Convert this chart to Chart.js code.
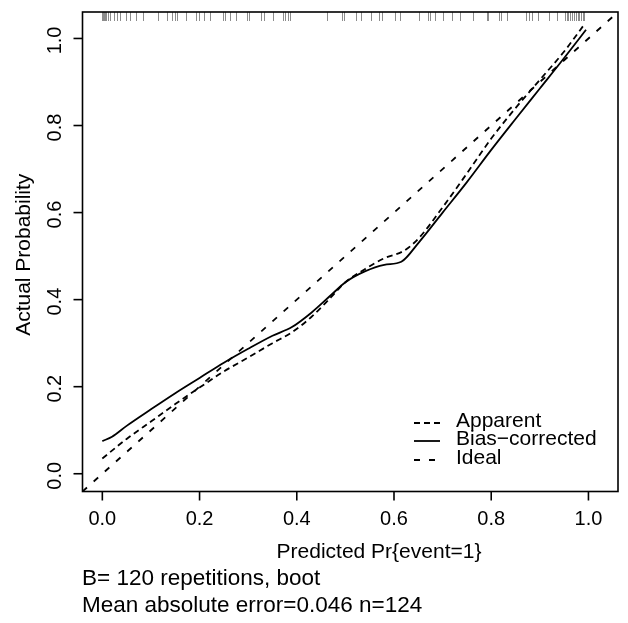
<!DOCTYPE html>
<html>
<head>
<meta charset="utf-8">
<script src="https://cdn.jsdelivr.net/npm/chart.js@4.4.0/dist/chart.umd.min.js"></script>
<style>
  html, body { margin: 0; padding: 0; background: #fff; }
</style>
</head>
<body>
<canvas id="grafico" width="628" height="623"></canvas>
<script>
// curva aparente (linea de trazos cortos)
const xAparente = [0, 0.05, 0.1, 0.15, 0.2, 0.25, 0.3, 0.35, 0.39, 0.43, 0.47, 0.5, 0.54, 0.58, 0.62, 0.65, 0.7, 0.75, 0.8, 0.85, 0.9, 0.95, 0.99];
const yAparente = [0.035, 0.08, 0.12, 0.16, 0.198, 0.235, 0.267, 0.3, 0.325, 0.36, 0.405, 0.44, 0.47, 0.495, 0.512, 0.54, 0.612, 0.69, 0.77, 0.84, 0.905, 0.97, 1.03];

// curva corregida por sesgo (linea continua)
const xCorregido = [0, 0.02, 0.05, 0.1, 0.15, 0.2, 0.25, 0.3, 0.35, 0.39, 0.43, 0.47, 0.5, 0.54, 0.58, 0.615, 0.65, 0.7, 0.75, 0.8, 0.85, 0.9, 0.95, 0.995];
const yCorregido = [0.075, 0.085, 0.11, 0.148, 0.185, 0.22, 0.255, 0.287, 0.317, 0.337, 0.37, 0.41, 0.44, 0.465, 0.48, 0.487, 0.53, 0.6, 0.67, 0.744, 0.815, 0.885, 0.955, 1.02];

// probabilidades predichas (marcas de la parte superior)
const rug = [0, 0.003, 0.001, 0.005, 0.008, 0.011, 0.016, 0.025, 0.03, 0.037, 0.049, 0.056, 0.07, 0.083,
  0.114, 0.134, 0.144, 0.15, 0.153, 0.172, 0.193, 0.198, 0.21, 0.221,
  0.249, 0.253, 0.262, 0.274, 0.297, 0.301, 0.326, 0.333, 0.351, 0.371, 0.376, 0.382, 0.386, 0.463, 0.492, 0.497,
  0.522, 0.533, 0.552, 0.57, 0.576, 0.602, 0.612, 0.652, 0.67, 0.674, 0.684, 0.701, 0.719, 0.736, 0.762, 0.791,
  0.793, 0.816, 0.821, 0.832, 0.871, 0.878, 0.883, 0.897, 0.919, 0.935, 0.952, 0.955, 0.958, 0.962, 0.967,
  0.971, 0.974, 0.978, 0.981, 0.984, 0.988, 0.991];

const limites = [-0.0408, 1.0608];
const marcas = [0, 0.2, 0.4, 0.6, 0.8, 1.0];
const etiquetas = ['0.0', '0.2', '0.4', '0.6', '0.8', '1.0'];
const leyenda = ['Apparent', 'Bias\u2212corrected', 'Ideal'];
const tituloX = 'Predicted Pr{event=1}';
const tituloY = 'Actual Probability';
const notas = ['B= 120 repetitions, boot', 'Mean absolute error=0.046 n=124'];

const FAMILIA = '"Liberation Sans", Arial, sans-serif';
const TRAZO_APARENTE = [6, 4];
const TRAZO_IDEAL = [6, 9];

function puntos(xs, ys) {
  return xs.map((x, i) => ({ x: x, y: ys[i] }));
}

const dibujarEjes = {
  id: 'ejesR',
  afterDraw(chart) {
    const ctx = chart.ctx;
    const area = chart.chartArea;
    const sx = chart.scales.x;
    const sy = chart.scales.y;
    ctx.save();
    ctx.fillStyle = '#000';

    // rug de predicciones
    ctx.strokeStyle = 'rgba(0,0,0,0.45)';
    ctx.lineWidth = 1;
    rug.forEach(r => {
      const px = Math.round(sx.getPixelForValue(r)) + 0.5;
      ctx.beginPath();
      ctx.moveTo(px, area.top);
      ctx.lineTo(px, area.top + 9);
      ctx.stroke();
    });

    // caja
    ctx.strokeStyle = '#000';
    ctx.lineWidth = 1.6;
    ctx.strokeRect(area.left, area.top, area.right - area.left, area.bottom - area.top);

    ctx.font = '20px ' + FAMILIA;
    ctx.textAlign = 'center';
    ctx.textBaseline = 'middle';
    // eje x
    marcas.forEach((v, i) => {
      const px = sx.getPixelForValue(v);
      ctx.beginPath();
      ctx.moveTo(px, area.bottom);
      ctx.lineTo(px, area.bottom + 9);
      ctx.stroke();
      ctx.fillText(etiquetas[i], px, 519);
    });
    // eje y
    marcas.forEach((v, i) => {
      const py = sy.getPixelForValue(v);
      ctx.beginPath();
      ctx.moveTo(area.left - 9, py);
      ctx.lineTo(area.left, py);
      ctx.stroke();
      ctx.save();
      ctx.translate(55, py + 2);
      ctx.rotate(-Math.PI / 2);
      ctx.fillText(etiquetas[i], 0, 0);
      ctx.restore();
    });

    // titulos
    ctx.font = '21px ' + FAMILIA;
    ctx.fillText(tituloX, 379, 552);
    ctx.save();
    ctx.translate(24, (area.top + area.bottom) / 2 + 3);
    ctx.rotate(-Math.PI / 2);
    ctx.fillText(tituloY, 0, 0);
    ctx.restore();

    // leyenda
    const estilos = [TRAZO_APARENTE, [], TRAZO_IDEAL];
    const filas = [421, 439, 458];
    ctx.lineWidth = 1.8;
    ctx.textAlign = 'left';
    leyenda.forEach((t, i) => {
      const y = filas[i] + 2;
      ctx.setLineDash(estilos[i]);
      ctx.beginPath();
      ctx.moveTo(414, y);
      ctx.lineTo(440, y);
      ctx.stroke();
      ctx.setLineDash([]);
      ctx.fillText(t, 456, filas[i]);
    });

    ctx.font = '22.5px ' + FAMILIA;
    ctx.fillText(notas[0], 82, 579);
    ctx.fillText(notas[1], 82, 606);
    ctx.restore();
  }
};

const ctx = document.getElementById('grafico').getContext('2d');
new Chart(ctx, {
  type: 'scatter',
  data: {
    datasets: [
      {
        label: leyenda[0],
        data: puntos(xAparente, yAparente),
        showLine: true,
        borderColor: '#000',
        borderWidth: 1.8,
        borderDash: TRAZO_APARENTE,
        pointRadius: 0,
        cubicInterpolationMode: 'monotone'
      },
      {
        label: leyenda[1],
        data: puntos(xCorregido, yCorregido),
        showLine: true,
        borderColor: '#000',
        borderWidth: 1.8,
        pointRadius: 0,
        cubicInterpolationMode: 'monotone'
      },
      {
        label: leyenda[2],
        data: puntos(limites, limites),
        showLine: true,
        borderColor: '#000',
        borderWidth: 1.8,
        borderDash: TRAZO_IDEAL,
        pointRadius: 0
      }
    ]
  },
  options: {
    responsive: false,
    animation: false,
    devicePixelRatio: 1,
    layout: { padding: { left: 82.5, right: 10, top: 12, bottom: 131.5 } },
    plugins: { legend: { display: false }, tooltip: { enabled: false } },
    scales: {
      x: { type: 'linear', display: false, min: limites[0], max: limites[1] },
      y: { type: 'linear', display: false, min: limites[0], max: limites[1] }
    }
  },
  plugins: [dibujarEjes]
});
</script>
</body>
</html>
